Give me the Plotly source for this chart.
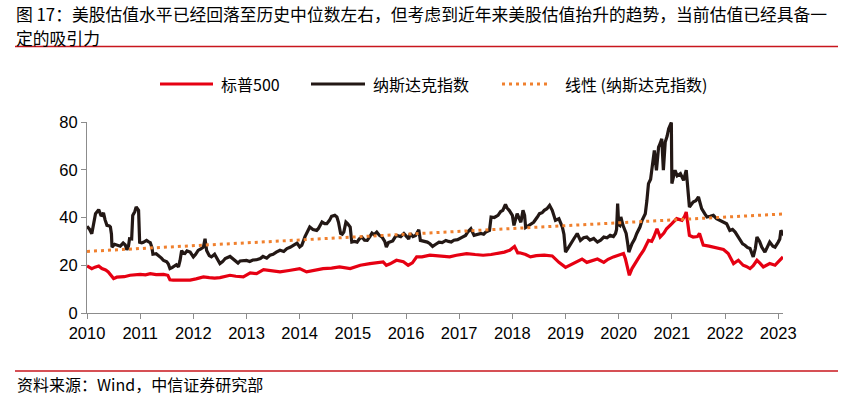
import plotly.graph_objects as go

# ---------------- data ----------------
NDX_T = [2010.00, 2010.05, 2010.09, 2010.13, 2010.16, 2010.22, 2010.26, 2010.28, 2010.31, 2010.34,
         2010.375, 2010.42, 2010.44, 2010.46, 2010.47, 2010.52, 2010.58, 2010.625, 2010.68, 2010.72,
         2010.75, 2010.78, 2010.80, 2010.84, 2010.86, 2010.90, 2010.925, 2010.95, 2010.97, 2010.99,
         2011.03, 2011.06, 2011.12, 2011.16, 2011.19, 2011.22, 2011.24, 2011.30, 2011.34, 2011.40,
         2011.44, 2011.50, 2011.53, 2011.56, 2011.60, 2011.625, 2011.68, 2011.72, 2011.75, 2011.78,
         2011.81, 2011.84, 2011.88, 2011.94, 2012.00, 2012.04, 2012.09, 2012.14, 2012.19, 2012.22,
         2012.25, 2012.30, 2012.34, 2012.40, 2012.45, 2012.50, 2012.55, 2012.60, 2012.69, 2012.74,
         2012.78, 2012.84, 2012.88, 2012.94, 2013.00, 2013.06, 2013.12, 2013.19, 2013.26, 2013.31,
         2013.38, 2013.44, 2013.50, 2013.56, 2013.63, 2013.70, 2013.76, 2013.82, 2013.88, 2013.95,
         2014.00, 2014.04, 2014.10, 2014.15, 2014.19, 2014.25, 2014.32, 2014.35, 2014.42, 2014.47,
         2014.51, 2014.56, 2014.60, 2014.66, 2014.70, 2014.73, 2014.77, 2014.80, 2014.83, 2014.87,
         2014.90, 2014.95, 2014.98, 2015.03, 2015.08, 2015.12, 2015.17, 2015.22, 2015.27, 2015.32,
         2015.36, 2015.40, 2015.45, 2015.50, 2015.55, 2015.60, 2015.63, 2015.67, 2015.70, 2015.75,
         2015.80, 2015.83, 2015.90, 2015.96, 2016.02, 2016.05, 2016.08, 2016.13, 2016.18, 2016.24,
         2016.27, 2016.33, 2016.40, 2016.45, 2016.50, 2016.56, 2016.62, 2016.68, 2016.75, 2016.80,
         2016.85, 2016.90, 2016.97, 2017.06, 2017.12, 2017.16, 2017.22, 2017.28, 2017.34, 2017.41,
         2017.46, 2017.50, 2017.57, 2017.60, 2017.66, 2017.73, 2017.78, 2017.82, 2017.87, 2017.90,
         2017.94, 2018.00, 2018.03, 2018.06, 2018.09, 2018.13, 2018.16, 2018.20, 2018.23, 2018.25,
         2018.30, 2018.34, 2018.40, 2018.47, 2018.51, 2018.56, 2018.60, 2018.65, 2018.70, 2018.75,
         2018.78, 2018.81, 2018.875, 2018.94, 2018.97, 2019.00, 2019.06, 2019.12, 2019.16, 2019.22,
         2019.28, 2019.34, 2019.40, 2019.46, 2019.53, 2019.60, 2019.66, 2019.72, 2019.78, 2019.84,
         2019.90, 2019.94, 2019.96, 2019.98, 2020.00, 2020.02, 2020.04, 2020.08, 2020.14, 2020.17,
         2020.19, 2020.25, 2020.30, 2020.34, 2020.40, 2020.44, 2020.50, 2020.53, 2020.56, 2020.60,
         2020.625, 2020.67, 2020.71, 2020.75, 2020.78, 2020.81, 2020.84, 2020.875, 2020.91, 2020.94,
         2020.99, 2021.00, 2021.06, 2021.10, 2021.16, 2021.22, 2021.27, 2021.30, 2021.33, 2021.40,
         2021.45, 2021.50, 2021.56, 2021.62, 2021.66, 2021.72, 2021.78, 2021.84, 2021.90, 2021.97,
         2022.03, 2022.09, 2022.14, 2022.19, 2022.24, 2022.28, 2022.33, 2022.375, 2022.42, 2022.47,
         2022.50, 2022.53, 2022.57, 2022.60, 2022.65, 2022.69, 2022.75, 2022.80, 2022.84, 2022.90,
         2022.94, 2023.00, 2023.03, 2023.05, 2023.08, 2023.11]
NDX_PE = [36.3, 35.0, 33.2, 37.5, 41.6, 43.3, 41.0, 40.9, 42.0, 39.0,
          36.7, 36.5, 36.0, 33.0, 27.6, 28.8, 28.3, 28.0, 29.3, 28.5,
          26.5, 28.0, 31.1, 31.0, 40.9, 42.5, 44.4, 43.5, 43.0, 29.6,
          29.4, 29.6, 30.4, 29.8, 29.5, 27.5, 24.6, 24.8, 24.2, 23.0,
          22.0, 21.4, 20.5, 18.6, 19.0, 19.5, 20.2, 19.3, 22.0, 26.2,
          25.0, 24.9, 26.0, 25.5, 23.5, 24.5, 26.2, 26.8, 27.6, 31.1,
          26.2, 24.0, 23.5, 24.6, 22.5, 20.7, 21.5, 22.8, 23.7, 22.8,
          21.8, 20.9, 21.8, 21.8, 22.0, 21.6, 22.2, 22.3, 22.8, 23.7,
          23.0, 24.2, 24.6, 25.5, 26.3, 25.8, 27.0, 27.5, 28.3, 29.3,
          27.7, 28.4, 32.0, 34.0, 36.0, 35.0, 34.6, 35.3, 38.1, 37.4,
          37.4, 38.8, 40.5, 40.9, 40.2, 38.0, 33.3, 33.0, 33.9, 38.1,
          37.5, 36.0, 29.7, 30.0, 29.7, 31.0, 31.8, 30.5, 30.4, 32.0,
          33.5, 32.8, 33.9, 32.5, 31.8, 30.0, 27.6, 29.5, 29.7, 30.2,
          32.0, 32.5, 32.0, 33.3, 31.8, 31.0, 33.3, 32.0, 32.5, 34.9,
          30.4, 30.0, 29.7, 29.0, 27.9, 28.8, 29.7, 29.5, 30.4, 30.0,
          29.7, 30.5, 30.7, 31.8, 32.5, 33.9, 35.3, 32.5, 33.0, 33.3,
          33.0, 33.9, 34.6, 40.2, 40.0, 40.9, 42.5, 43.0, 45.5, 44.0,
          43.0, 40.9, 36.7, 39.0, 41.6, 39.5, 38.0, 43.0, 40.9, 35.8,
          36.5, 37.4, 38.0, 40.2, 41.6, 42.0, 43.0, 43.7, 45.1, 43.0,
          40.5, 38.8, 39.5, 36.0, 33.0, 25.5, 27.6, 29.5, 31.2, 33.3,
          30.4, 31.5, 31.8, 30.5, 31.2, 29.7, 30.5, 31.8, 31.5, 32.5,
          32.0, 33.3, 35.0, 45.8, 37.0, 36.7, 40.2, 36.7, 33.3, 29.0,
          25.5, 29.0, 31.0, 33.3, 36.0, 38.8, 41.6, 47.0, 54.2, 56.0,
          61.1, 68.1, 59.8, 69.5, 71.0, 73.0, 59.8, 71.6, 74.0, 77.2,
          79.8, 54.2, 59.8, 57.5, 58.4, 55.6, 59.8, 52.0, 44.4, 46.5,
          47.0, 48.6, 43.7, 41.5, 40.2, 40.5, 40.9, 39.5, 38.8, 38.0,
          37.4, 34.6, 35.0, 33.9, 32.0, 30.4, 29.0, 28.4, 27.5, 27.0,
          25.0, 23.5, 27.0, 31.8, 30.0, 27.6, 25.5, 27.5, 29.7, 28.0,
          27.6, 29.7, 31.0, 34.6, 33.5, 32.5]

SPX_T = [2010.00, 2010.05, 2010.09, 2010.15, 2010.22, 2010.28, 2010.35, 2010.40, 2010.45, 2010.50,
         2010.56, 2010.625, 2010.70, 2010.81, 2010.90, 2011.00, 2011.10, 2011.19, 2011.30, 2011.44,
         2011.52, 2011.56, 2011.62, 2011.72, 2011.81, 2011.94, 2012.05, 2012.19, 2012.30, 2012.40,
         2012.50, 2012.69, 2012.80, 2012.94, 2013.07, 2013.19, 2013.32, 2013.44, 2013.63, 2013.80,
         2014.00, 2014.13, 2014.30, 2014.44, 2014.60, 2014.75, 2014.95, 2015.14, 2015.32, 2015.50,
         2015.57, 2015.63, 2015.70, 2015.82, 2015.95, 2016.04, 2016.12, 2016.20, 2016.30, 2016.45,
         2016.60, 2016.82, 2016.95, 2017.14, 2017.30, 2017.45, 2017.60, 2017.70, 2017.85, 2017.95,
         2018.04, 2018.10, 2018.14, 2018.25, 2018.34, 2018.45, 2018.60, 2018.75, 2018.875, 2019.00,
         2019.125, 2019.20, 2019.31, 2019.40, 2019.50, 2019.60, 2019.72, 2019.80, 2019.90, 2020.00,
         2020.09, 2020.125, 2020.16, 2020.20, 2020.25, 2020.34, 2020.40, 2020.47, 2020.56, 2020.62,
         2020.66, 2020.72, 2020.78, 2020.85, 2020.90, 2021.00, 2021.09, 2021.19, 2021.24, 2021.27,
         2021.30, 2021.33, 2021.40, 2021.48, 2021.52, 2021.59, 2021.70, 2021.78, 2021.88, 2021.97,
         2022.06, 2022.16, 2022.25, 2022.34, 2022.40, 2022.47, 2022.53, 2022.60, 2022.66, 2022.72,
         2022.84, 2022.94, 2023.00, 2023.09]
SPX_PE = [19.7, 19.0, 18.6, 19.2, 19.7, 18.6, 18.0, 17.2, 16.0, 14.4,
          15.0, 15.1, 15.2, 15.8, 16.0, 16.2, 16.0, 16.5, 16.1, 16.2,
          15.8, 13.9, 13.8, 13.7, 13.9, 13.8, 14.3, 15.1, 14.8, 14.6,
          14.8, 15.8, 15.4, 15.1, 16.8, 16.5, 18.2, 17.9, 17.2, 17.8,
          18.6, 17.2, 18.0, 18.6, 18.8, 19.3, 18.6, 20.0, 20.7, 21.0,
          21.4, 20.0, 20.6, 22.1, 21.5, 20.0, 21.0, 23.5, 23.5, 24.2,
          24.0, 23.5, 24.2, 24.9, 24.5, 24.2, 24.5, 24.9, 25.5, 26.3,
          27.9, 25.2, 25.2, 24.5, 23.5, 24.0, 24.2, 23.9, 21.2, 19.1,
          20.5, 21.5, 22.6, 21.2, 22.0, 22.6, 21.2, 22.5, 23.5, 24.2,
          24.9, 22.8, 19.0, 15.8, 18.6, 22.1, 24.0, 26.3, 30.4, 30.0,
          31.8, 35.3, 31.8, 33.5, 35.3, 37.4, 39.5, 38.8, 40.5, 42.3,
          38.0, 32.5, 31.8, 32.0, 33.3, 28.4, 28.0, 27.6, 27.0, 26.6,
          24.9, 20.7, 22.1, 20.0, 19.5, 18.6, 19.8, 22.1, 20.8, 19.3,
          20.7, 20.0, 21.4, 23.5]

TREND_T = [2010.00, 2023.11]
TREND_PE = [25.8, 41.5]

YEAR_TICKS = [2010, 2011, 2012, 2013, 2014, 2015, 2016, 2017, 2018, 2019, 2020, 2021, 2022, 2023]
YEAR_LABELS = [str(y) for y in YEAR_TICKS]
Y_TICKS = [0, 20, 40, 60, 80]

SERIES_NAMES = ["标普500", "纳斯达克指数", "线性 (纳斯达克指数)"]
TITLE_LINES = ["图 17：美股估值水平已经回落至历史中位数左右，但考虑到近年来美股估值抬升的趋势，当前估值已经具备一",
               "定的吸引力"]
SOURCE = "资料来源：Wind，中信证券研究部"

RED = "#E60012"
BLACK = "#231815"
ORANGE = "#F0802E"
LINE_RED = "#C8161D"
CJK = "Noto Sans CJK SC"

# ---------------- figure (positions given in page pixels) ----------------
W, H = 865, 399
ML, MR, MT, MB = 87, 82, 122, 86
PW, PH = W - ML - MR, H - MT - MB


def px(x):
    return (x - ML) / PW


def py(y):
    return 1 + (MT - y) / PH


fig = go.Figure()
fig.add_trace(go.Scatter(x=SPX_T, y=SPX_PE, mode="lines", name=SERIES_NAMES[0],
                         line=dict(color=RED, width=3.2), showlegend=False))
fig.add_trace(go.Scatter(x=NDX_T, y=NDX_PE, mode="lines", name=SERIES_NAMES[1],
                         line=dict(color=BLACK, width=3.2), showlegend=False))
fig.add_trace(go.Scatter(x=TREND_T, y=TREND_PE, mode="lines", name=SERIES_NAMES[2],
                         line=dict(color=ORANGE, width=3, dash="3px,4px"), showlegend=False))

shapes = []
annotations = []

# title (two lines) and red rules
for line_text, yc in zip(TITLE_LINES, [13.5, 38]):
    annotations.append(dict(xref="paper", yref="paper", x=px(15), y=py(yc), xanchor="left", yanchor="middle",
                            text=line_text, showarrow=False, align="left", borderpad=0,
                            font=dict(family=CJK, size=16.8, color="#000000")))
shapes.append(dict(type="line", xref="paper", yref="paper", x0=px(15), x1=px(838), y0=py(46.5), y1=py(46.5),
                   line=dict(color=LINE_RED, width=1.5)))
shapes.append(dict(type="line", xref="paper", yref="paper", x0=px(15), x1=px(838), y0=py(371), y1=py(371),
                   line=dict(color=LINE_RED, width=1.5)))
annotations.append(dict(xref="paper", yref="paper", x=px(15), y=py(384), xanchor="left", yanchor="middle",
                        text=SOURCE, showarrow=False, align="left",
                        font=dict(family=CJK, size=16, color="#000000")))

# legend (manual, to match sample lengths)
ly = py(84)
legend_items = [
    (160, 213, 219, RED, None),
    (311, 365, 371, BLACK, None),
    (502, 548, 563, ORANGE, "3px,4px"),
]
for (x0, x1, xt, col, dash), name in zip(legend_items, SERIES_NAMES):
    ln = dict(color=col, width=3)
    if dash:
        ln["dash"] = dash
    shapes.append(dict(type="line", xref="paper", yref="paper", x0=px(x0), x1=px(x1), y0=ly, y1=ly, line=ln))
    annotations.append(dict(xref="paper", yref="paper", x=px(xt), y=ly, xanchor="left", yanchor="middle",
                            text=name, showarrow=False, font=dict(family=CJK, size=16, color="#000000")))

axis_col = "#8C8C8C"
fig.update_layout(
    width=W, height=H,
    margin=dict(l=ML, r=MR, t=MT, b=MB, pad=0),
    paper_bgcolor="white", plot_bgcolor="white",
    shapes=shapes, annotations=annotations,
    showlegend=False,
    xaxis=dict(range=[2010, 2023.09], tickvals=YEAR_TICKS, ticktext=YEAR_LABELS,
               showgrid=False, zeroline=False, showline=True, linecolor=axis_col, linewidth=1,
               ticks="outside", ticklen=5, tickcolor=axis_col,
               tickfont=dict(family="Liberation Sans, Arial", size=16.5, color="#000000")),
    yaxis=dict(range=[0, 80], tickvals=Y_TICKS, showgrid=False, zeroline=False,
               showline=True, linecolor=axis_col, linewidth=1,
               ticks="outside", ticklen=5, tickcolor=axis_col,
               tickfont=dict(family="Liberation Sans, Arial", size=16.5, color="#000000")),
)

# remove the browser's default 8px body margin so the figure fills the window
fig.write_html("out.html", config={"displayModeBar": False},
               post_script="document.body.style.margin='0';")
